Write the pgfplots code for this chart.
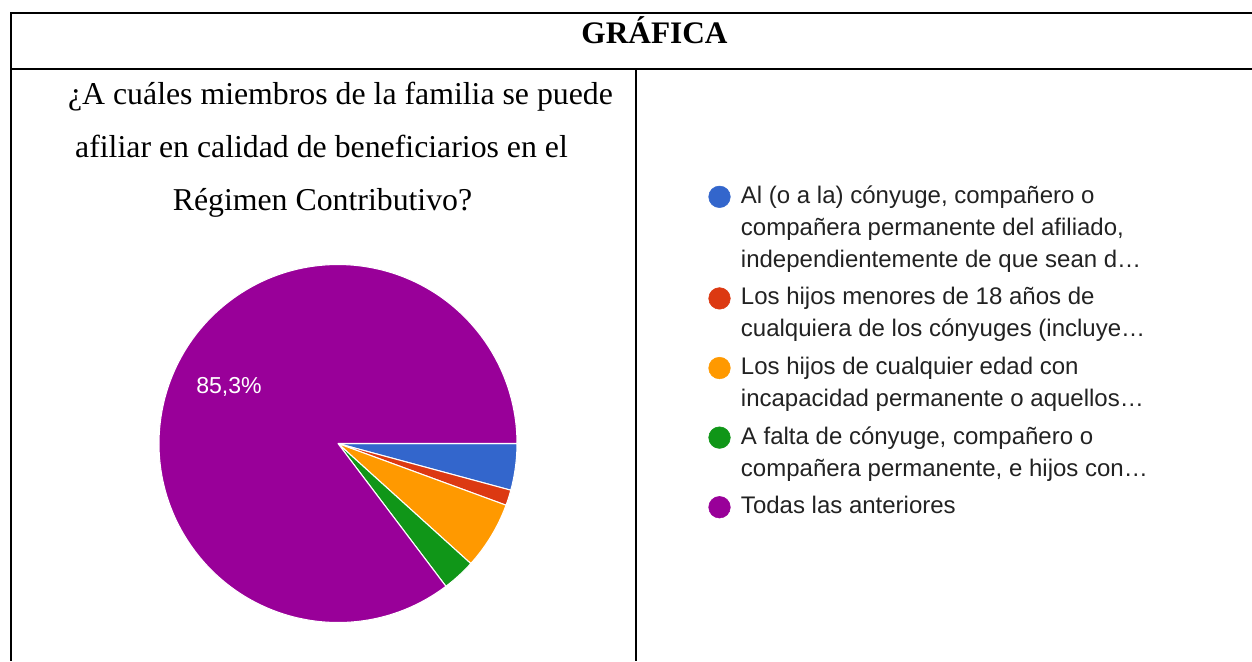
\documentclass[border=0pt]{standalone}
\usepackage{fontspec}
\setmainfont{Liberation Serif}
\newfontfamily\arial{Liberation Sans}
\usepackage{pgfplots}
\pgfplotsset{compat=1.18}
\usepackage{pgfplotstable}

\definecolor{pblue}{HTML}{3366CC}
\definecolor{pred}{HTML}{DC3912}
\definecolor{porange}{HTML}{FF9900}
\definecolor{pgreen}{HTML}{109618}
\definecolor{ppurple}{HTML}{990099}
\definecolor{legtext}{HTML}{222222}

% share of answers (%), clockwise from 3 o'clock
\pgfplotstableread{
pct col
4.2 pblue
1.4 pred
6.1 porange
3.0 pgreen
85.3 ppurple
}\piedata

\begin{document}
\begin{tikzpicture}[x=0.75pt,y=0.75pt]
\useasboundingbox (0,0) rectangle (1252,-661);

% table frame
\draw[line width=1.5pt] (10,-13) -- (1252,-13);
\draw[line width=1.5pt] (10,-69) -- (1252,-69);
\draw[line width=1.5pt] (11,-12) -- (11,-661);
\draw[line width=1.5pt] (636,-69) -- (636,-661);

\node[anchor=base, inner sep=0pt, font=\fontsize{23.5}{28}\selectfont\bfseries] at (654.5,-43) {GRÁFICA};
\node[anchor=base, inner sep=0pt, font=\fontsize{23.85}{28}\selectfont] at (340.5,-104) {¿A cuáles miembros de la familia se puede};
\node[anchor=base, inner sep=0pt, font=\fontsize{23.85}{28}\selectfont] at (321.5,-157) {afiliar en calidad de beneficiarios en el};
\node[anchor=base, inner sep=0pt, font=\fontsize{23.85}{28}\selectfont] at (322.5,-210) {Régimen Contributivo?};

\coordinate (piecenter) at (338,-443.5);

\begin{axis}[
  at={(piecenter)}, anchor=center,
  hide axis, scale only axis, clip=false,
  width=268.5pt, height=268.5pt,
  xmin=-1, xmax=1, ymin=-1, ymax=1,
  legend image code/.code={\fill[#1] (8.1pt,4.8pt) circle (8.1pt);},
  legend style={draw=none, fill=none, at={(axis cs:2.068,1.469)}, anchor=north west,
    inner xsep=0pt, inner ysep=0pt, row sep=4.2pt, column sep=7.8pt,
    font=\arial\fontsize{18}{24}\selectfont,
    cells={anchor=base west},
    nodes={inner sep=0pt, text depth={}, text=legtext}},
]
\gdef\cumA{0}
\pgfplotsinvokeforeach{0,...,4}{
  \pgfplotstablegetelem{#1}{pct}\of\piedata \let\pct\pgfplotsretval
  \pgfplotstablegetelem{#1}{col}\of\piedata \let\pcol\pgfplotsretval
  \pgfmathsetmacro\angA{-3.6*\cumA}
  \pgfmathsetmacro\angB{-3.6*(\cumA+\pct)}
  \pgfmathsetmacro\cumB{\cumA+\pct}
  \xdef\cumA{\cumB}
  \edef\wedge{\noexpand\filldraw[fill=\pcol, draw=white, line width=0.8pt, line join=round]
    (axis cs:0,0) -- (axis cs:{cos(\angA)},{sin(\angA)})
    arc[start angle=\angA, end angle=\angB, radius=134.25pt] -- cycle;}
  \wedge
}
\node[font=\arial\fontsize{17.3}{20}\selectfont, text=white] at (axis cs:-0.609,0.318) {85,3\%};

\addlegendimage{pblue}
\addlegendentry{{\begin{tabular}[t]{@{}l@{}}Al (o a la) cónyuge, compañero o\\compañera permanente del afiliado,\\independientemente de que sean d…\end{tabular}}}
\addlegendimage{pred}
\addlegendentry{{\begin{tabular}[t]{@{}l@{}}Los hijos menores de 18 años de\\cualquiera de los cónyuges (incluye…\end{tabular}}}
\addlegendimage{porange}
\addlegendentry{{\begin{tabular}[t]{@{}l@{}}Los hijos de cualquier edad con\\incapacidad permanente o aquellos…\end{tabular}}}
\addlegendimage{pgreen}
\addlegendentry{{\begin{tabular}[t]{@{}l@{}}A falta de cónyuge, compañero o\\compañera permanente, e hijos con…\end{tabular}}}
\addlegendimage{ppurple}
\addlegendentry{{\begin{tabular}[t]{@{}l@{}}Todas las anteriores\end{tabular}}}
\end{axis}
\end{tikzpicture}
\end{document}
